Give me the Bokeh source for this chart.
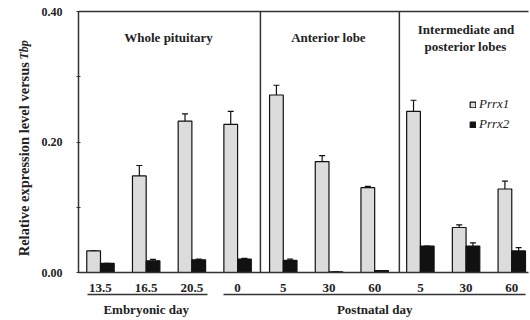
from bokeh.plotting import figure
from bokeh.models import (ColumnDataSource, FixedTicker, LinearAxis, Label, Span,
                          Whisker, TeeHead, Legend, LegendItem, Range1d)
from bokeh.layouts import row
from bokeh.embed import file_html
from bokeh.resources import INLINE
import numpy as np

# ---- data ----
categories = ["13.5", "16.5", "20.5", "0", "5", "30", "60", "5", "30", "60"]
prrx1 = [0.033, 0.148, 0.232, 0.227, 0.272, 0.170, 0.130, 0.247, 0.069, 0.128]
prrx1_err = [0.0, 0.016, 0.011, 0.020, 0.015, 0.009, 0.002, 0.017, 0.004, 0.012]
prrx2 = [0.014, 0.018, 0.0195, 0.0205, 0.0185, 0.001, 0.003, 0.0405, 0.0405, 0.033]
prrx2_err = [0.0, 0.002, 0.001, 0.001, 0.002, 0.0, 0.0, 0.0, 0.005, 0.005]
panel_titles = ["Whole pituitary", "Anterior lobe", "Intermediate and", "posterior lobes"]
group_labels = ["Embryonic day", "Postnatal day"]
group_centers = [1, 6]
y_ticks = [0.0, 0.2, 0.4]
y_minor = [0.1, 0.3]
y_tick_labels = ["0.00", "0.20", "0.40"]
y_title = ["Relative expression level versus", "Tbp"]

FONT = "Liberation Serif"
LINE = "#333333"
TXT = "#222222"

x = np.arange(len(categories))
half = 0.15
bw = 0.30

LW = 34  # width of the strip that holds the y title

p = figure(width=530 - LW, height=320, output_backend="svg", toolbar_location=None,
           x_range=Range1d(-0.481, 9.366), y_range=Range1d(0, 0.4),
           min_border_left=78 - LW, min_border_right=2, min_border_top=11,
           min_border_bottom=48, x_axis_location=None, y_axis_location=None)
p.outline_line_color = None
p.xgrid.visible = False
p.ygrid.visible = False

src = ColumnDataSource(dict(x1=x - half, x2=x + half, p1=prrx1, p2=prrx2,
                            u1=np.array(prrx1) + np.array(prrx1_err),
                            u2=np.array(prrx2) + np.array(prrx2_err)))

r1 = p.vbar(x="x1", top="p1", width=bw, source=src, fill_color="#dcdcdc",
            line_color="#111111", line_width=1.2)
r2 = p.vbar(x="x2", top="p2", width=bw, source=src, fill_color="#111111",
            line_color="#111111", line_width=1.2)

for base, lo, up in (("x1", "p1", "u1"), ("x2", "p2", "u2")):
    w = Whisker(base=base, lower=lo, upper=up, source=src, line_color="#111111",
                line_width=1.2, lower_head=None,
                upper_head=TeeHead(size=6, line_color="#111111", line_width=1.2))
    p.add_layout(w)

# separators between panels
for loc in (3.5, 6.54):
    p.add_layout(Span(location=loc, dimension="height", line_color=LINE, line_width=1.5))

# y axis
yax = LinearAxis(ticker=FixedTicker(ticks=y_ticks, minor_ticks=y_minor),
                 major_label_overrides={t: l for t, l in zip(y_ticks, y_tick_labels)})
yax.axis_line_color = LINE
yax.axis_line_width = 1.5
yax.major_tick_in = 2
yax.major_tick_out = 2
yax.minor_tick_in = 2
yax.minor_tick_out = 2
yax.major_tick_line_color = LINE
yax.minor_tick_line_color = LINE
yax.major_label_standoff = 14
yax.major_label_text_font = FONT
yax.major_label_text_font_style = "bold"
yax.major_label_text_font_size = "12px"
yax.major_label_text_color = TXT
p.add_layout(yax, "left")

# x axis with the day values
xax = LinearAxis(ticker=FixedTicker(ticks=list(x)),
                 major_label_overrides={int(i): c for i, c in zip(x, categories)})
xax.axis_line_color = LINE
xax.axis_line_width = 1.5
xax.major_tick_in = 0
xax.major_tick_out = 0
xax.minor_tick_line_color = None
xax.major_label_standoff = 11
xax.major_label_text_font = FONT
xax.major_label_text_font_style = "bold"
xax.major_label_text_font_size = "13px"
xax.major_label_text_color = TXT
p.add_layout(xax, "below")

# second axis below: group labels, its line split in two by a dash pattern
gax = LinearAxis(ticker=FixedTicker(ticks=group_centers), bounds=(-0.28, 9.3),
                 major_label_overrides={c: g for c, g in zip(group_centers, group_labels)})
gax.axis_line_color = LINE
gax.axis_line_width = 1.5
gax.axis_line_dash = "120 16 420"
gax.major_tick_in = 0
gax.major_tick_out = 0
gax.minor_tick_line_color = None
gax.major_label_standoff = 7
gax.major_label_text_font = FONT
gax.major_label_text_font_style = "bold"
gax.major_label_text_font_size = "13px"
gax.major_label_text_color = TXT
p.add_layout(gax, "below")

# top frame line
tax = LinearAxis(ticker=FixedTicker(ticks=[]))
tax.axis_line_color = LINE
tax.axis_line_width = 1.5
tax.major_tick_in = 0
tax.major_tick_out = 0
tax.minor_tick_line_color = None
tax.major_label_standoff = 0
p.add_layout(tax, "above")

def lab(fig, text, sx, sy, size="13px", style="bold", align="center", angle=0.0,
        units="screen"):
    fig.add_layout(Label(x=sx, y=sy, x_units=units, y_units=units, text=text,
                         text_font=FONT, text_font_style=style, text_font_size=size,
                         text_align=align, text_baseline="middle", angle=angle,
                         text_color=TXT))

# panel titles (screen px relative to the frame)
lab(p, panel_titles[0], 90, 235)
lab(p, panel_titles[1], 250, 235)
lab(p, panel_titles[2], 387.5, 243)
lab(p, panel_titles[3], 387, 226)

legend = Legend(items=[LegendItem(label="Prrx1", renderers=[r1]),
                       LegendItem(label="Prrx2", renderers=[r2])],
                location=(391, 140), glyph_width=7, glyph_height=7, label_standoff=3,
                label_height=12, spacing=4, padding=0, margin=0,
                label_text_font=FONT, label_text_font_style="italic",
                label_text_font_size="13px", label_text_color=TXT,
                border_line_color=None, background_fill_alpha=0)
p.add_layout(legend, "center")

# strip on the left with the y title
left = figure(width=LW, height=320, output_backend="svg", toolbar_location=None,
              x_range=Range1d(0, LW), y_range=Range1d(0, 320),
              min_border=0, x_axis_location=None, y_axis_location=None)
left.outline_line_color = None
left.xgrid.visible = False
left.ygrid.visible = False
lab(left, y_title[0], 23, 258, size="14.5px", align="right", angle=np.pi / 2, units="data")
lab(left, y_title[1], 23, 261, size="12px", style="bold italic", align="left",
    angle=np.pi / 2, units="data")

layout = row(left, p, spacing=0)
open("out.html", "w").write(file_html(layout, INLINE))
